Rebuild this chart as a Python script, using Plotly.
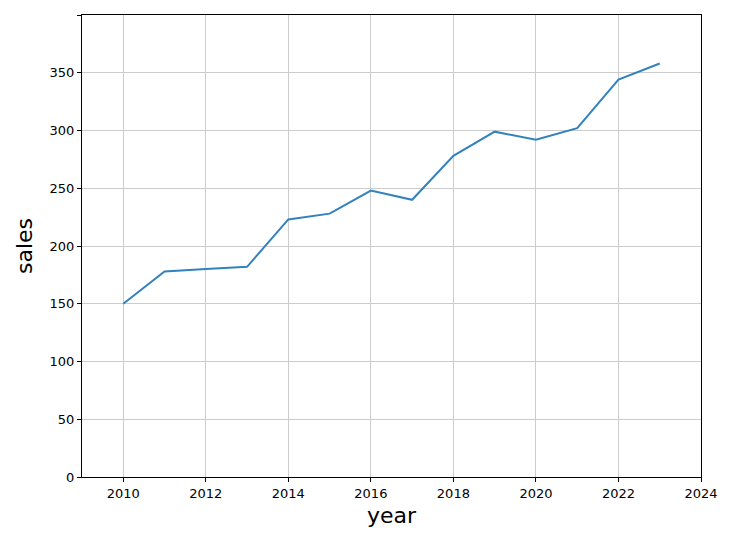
import plotly.graph_objects as go

years = list(range(2010, 2024))
sales = [150, 178, 180, 182, 223, 228, 248, 240, 278, 299, 292, 302, 344, 358]
x_ticks = [2010, 2012, 2014, 2016, 2018, 2020, 2022, 2024]
y_ticks = [0, 50, 100, 150, 200, 250, 300, 350, 400]

fig = go.Figure(go.Scatter(x=years, y=sales, mode="lines",
                           line=dict(color="#3182bd", width=2)))
ax = dict(showline=True, linecolor="black", mirror=True, ticks="outside",
          ticklen=4, tickcolor="black", showgrid=True, gridcolor="#cccccc",
          zeroline=False, tickfont=dict(size=13, color="black"), automargin=False)
fig.update_layout(
    width=735, height=543, plot_bgcolor="white", paper_bgcolor="white",
    margin=dict(l=74, r=42, t=7, b=74),
    font=dict(family="DejaVu Sans", color="black"),
    xaxis=dict(**ax, range=[2009, 2024], tickvals=x_ticks,
               title=dict(text="year", font=dict(size=22), standoff=8)),
    yaxis=dict(**ax, range=[0, 400], tickvals=y_ticks,
               title=dict(text="sales", font=dict(size=22), standoff=10)),
    showlegend=False,
)
fig.write_html("out.html")
